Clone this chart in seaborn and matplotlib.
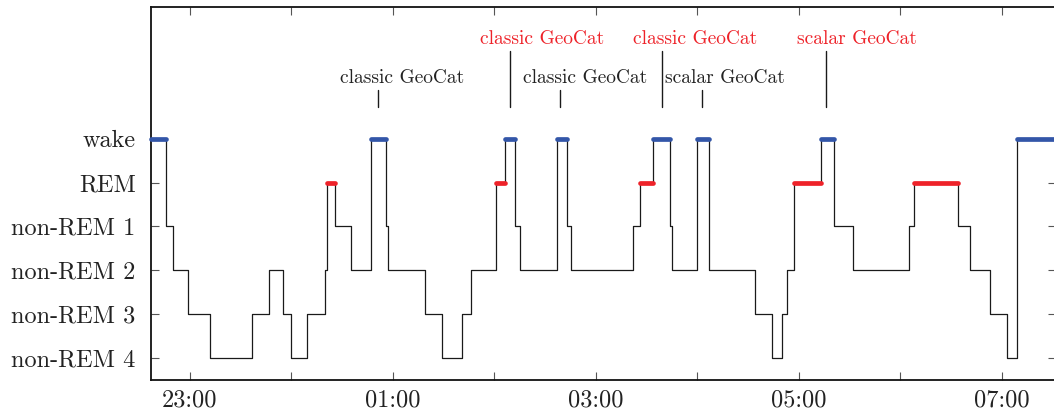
import matplotlib
matplotlib.use("Agg")
import matplotlib.pyplot as plt
import matplotlib.dates as mdates
import seaborn as sns
import pandas as pd

# ---------------- data ----------------
stage_names = ["non-REM 4", "non-REM 3", "non-REM 2", "non-REM 1", "REM", "wake"]

step_times = ["22:37", "22:46", "22:50", "22:59", "23:12", "23:37", "23:47", "23:55",
              "00:00", "00:09", "00:20", "00:21", "00:26", "00:35", "00:47", "00:56",
              "00:57", "01:19", "01:29", "01:41", "01:46", "02:01", "02:06", "02:12",
              "02:15", "02:37", "02:43", "02:45", "03:22", "03:26", "03:34", "03:44",
              "03:45", "04:00", "04:07", "04:34", "04:44", "04:50", "04:53", "04:57",
              "05:13", "05:21", "05:32", "06:05", "06:08", "06:34", "06:41", "06:53",
              "07:03", "07:09", "07:32"]
step_stages = ["wake", "non-REM 1", "non-REM 2", "non-REM 3", "non-REM 4", "non-REM 3",
               "non-REM 2", "non-REM 3", "non-REM 4", "non-REM 3", "non-REM 2", "REM",
               "non-REM 1", "non-REM 2", "wake", "non-REM 1", "non-REM 2", "non-REM 3",
               "non-REM 4", "non-REM 3", "non-REM 2", "REM", "wake", "non-REM 1",
               "non-REM 2", "wake", "non-REM 1", "non-REM 2", "non-REM 1", "REM", "wake",
               "non-REM 1", "non-REM 2", "wake", "non-REM 2", "non-REM 3", "non-REM 4",
               "non-REM 3", "non-REM 2", "REM", "wake", "non-REM 1", "non-REM 2",
               "non-REM 1", "REM", "non-REM 1", "non-REM 2", "non-REM 3", "non-REM 4",
               "wake", "wake"]

event_times = ["00:51", "02:09", "02:39", "03:39", "04:03", "05:16"]
event_labels = ["classic GeoCat", "classic GeoCat", "classic GeoCat",
                "classic GeoCat", "scalar GeoCat", "scalar GeoCat"]
event_highlight = [False, True, False, True, False, True]

tick_hours = [23, 1, 3, 5, 7]
minor_hours = [0, 2, 4, 6]


def to_ts(s):
    h = int(s.split(":")[0])
    day = "2020-01-01" if h >= 12 else "2020-01-02"
    return pd.Timestamp(f"{day} {s}")


df = pd.DataFrame({
    "time": [to_ts(s) for s in step_times],
    "level": [stage_names.index(s) for s in step_stages],
})

# ---------------- style ----------------
sns.set_style("ticks")
plt.rcParams["font.family"] = ["cmr10", "DejaVu Serif"]
plt.rcParams["axes.formatter.use_mathtext"] = True
plt.rcParams["mathtext.fontset"] = "cm"

W, H = 1054, 411
fig = plt.figure(figsize=(W / 100, H / 100), dpi=100)
ax = fig.add_axes([151 / W, (H - 380) / H, (1056 - 151) / W, (380 - 7) / H])

BLUE = "#3356a8"
RED = "#ee2229"
LINE = "#1a1a1a"

sns.lineplot(data=df, x="time", y="level", drawstyle="steps-post",
             estimator=None, color=LINE, lw=0.9, ax=ax, zorder=2)

# highlighted wake / REM segments
for i in range(len(df) - 1):
    lvl = df["level"].iloc[i]
    if stage_names[lvl] in ("wake", "REM"):
        col = BLUE if stage_names[lvl] == "wake" else RED
        ax.plot([df["time"].iloc[i], df["time"].iloc[i + 1]], [lvl, lvl],
                color=col, lw=3.4, solid_capstyle="round", zorder=3,
                clip_on=False)

# event annotations
for t, lab, hi in zip(event_times, event_labels, event_highlight):
    ts = to_ts(t)
    top = 7.0 if hi else 6.1
    ax.plot([ts, ts], [5.71, top], color=LINE, lw=1.0, zorder=2)
    ax.annotate(lab, xy=(ts, 7.15 if hi else 6.26),
                xytext=(-21.0 if hi else -26.8, 0), textcoords="offset points",
                ha="left", va="baseline", fontsize=14,
                color=RED if hi else "#222222")

ax.set_xlim(to_ts("22:37"), to_ts("07:32"))
ax.set_ylim(-0.5, 8.0)
ax.set_yticks(range(len(stage_names)))
ax.set_yticklabels(stage_names)
ax.set_xlabel("")
ax.set_ylabel("")

ax.xaxis.set_major_locator(mdates.HourLocator(byhour=tick_hours))
ax.xaxis.set_minor_locator(mdates.HourLocator(byhour=minor_hours))
ax.xaxis.set_major_formatter(mdates.DateFormatter("%H:%M"))

ax.tick_params(axis="both", which="both", direction="in", top=True, right=True,
               length=6, width=0.8, color="#555555", labelcolor="#222222")
ax.tick_params(axis="x", which="major", labelsize=17.5, pad=7)
ax.tick_params(axis="y", which="major", labelsize=17.5, pad=11)

for sp in ax.spines.values():
    sp.set_visible(True)
    sp.set_linewidth(1.3)
    sp.set_color("#111111")

fig.savefig("out.png", dpi=100)
